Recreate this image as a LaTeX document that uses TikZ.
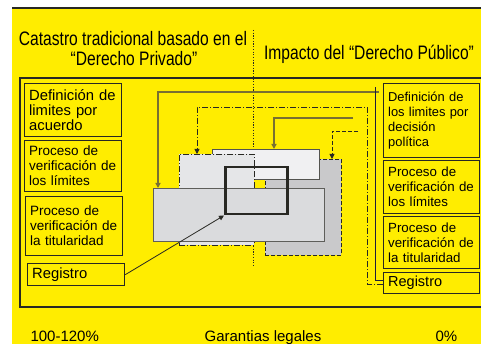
\documentclass[tikz,border=0pt]{standalone}
\usepackage{fontspec}
\setmainfont{Liberation Sans}
\newfontfamily\narrowfont[FakeStretch=0.8]{Liberation Sans}
\usetikzlibrary{arrows.meta}
\definecolor{bgyellow}{RGB}{255,237,0}
\definecolor{ink}{RGB}{40,40,35}
\definecolor{olv}{RGB}{120,112,50}
\definecolor{navy}{RGB}{30,30,60}
\definecolor{grayG}{RGB}{201,201,203}
\definecolor{grayW}{RGB}{240,240,242}
\definecolor{grayD}{RGB}{229,230,232}
\definecolor{grayB}{RGB}{218,219,221}
\begin{document}
\begin{tikzpicture}[x=1pt,y=-1pt,
  tbox/.style={draw=ink, line width=1.3pt, anchor=north west, inner xsep=4.5pt, inner ysep=0pt, align=left, text width=88pt},
  rbox/.style={tbox, text width=87pt},
  shp/.style={anchor=north west, inner sep=0pt, line width=0.9pt},
  tip/.style={-{Triangle[width=5pt,length=5pt]}},
  conn/.style={draw=ink, line width=0.8pt},
  oconn/.style={draw=olv, line width=1.4pt},
  dashdot/.style={dash pattern=on 6pt off 2pt on 1pt off 2pt},
  dsh/.style={dash pattern=on 4pt off 2pt},
  lbl/.style={anchor=base, font={\fontsize{15}{15}\selectfont}},
  ttl/.style={anchor=base, font={\narrowfont\fontsize{19.5}{20}\selectfont}}
]
\useasboundingbox (0,0) rectangle (481,344);
\fill[bgyellow] (12,8) rectangle (481,344);
\draw[ink, line width=2pt] (12,8) -- (481,8);

% titles
\node[ttl] (ta) at (133,45.7) {Catastro tradicional basado en el};
\node[ttl] (tb) at (134,65.7) {“Derecho Privado”};
\node[ttl] (tc) at (369,59.3) {Impacto del “Derecho Público”};

% dotted divider
\coordinate (dv1) at (253,30);
\coordinate (dv2) at (253,265);
\draw[ink, line width=0.8pt, dash pattern=on 1.2pt off 1.5pt] (dv1) -- (dv2);

% frame
\draw[ink, line width=2.5pt] (482,78) -- (20,78) -- (20,307) -- (482,307);

% left boxes
\node[tbox, minimum height=53pt, font={\fontsize{14.8}{15}\selectfont}] (L1) at (24,83) {Definición de\\limites por\\acuerdo};
\node[tbox, minimum height=51pt, font={\fontsize{13.5}{15}\selectfont}] (L2) at (24,140) {Proceso de\\verificación de\\los límites};
\node[tbox, minimum height=59pt, font={\fontsize{13.5}{15}\selectfont}] (L3) at (25,196) {Proceso de\\verificación de\\la titularidad};
\node[tbox, minimum height=22pt, font={\fontsize{14.8}{15}\selectfont}] (L4) at (27,263) {Registro};

% right boxes
\node[rbox, minimum height=74pt, font={\fontsize{12.9}{15}\selectfont}] (R1) at (383,83) {Definición de\\los limites por\\decisión\\política};
\node[rbox, minimum height=53pt, font={\fontsize{13.3}{15}\selectfont}] (R2) at (383,160) {Proceso de\\verificación de\\los límites};
\node[rbox, minimum height=52pt, font={\fontsize{13.3}{15}\selectfont}] (R3) at (383,216) {Proceso de\\verificación de\\la titularidad};
\node[rbox, minimum height=21pt, font={\fontsize{14.5}{15}\selectfont}] (R4) at (383,272) {Registro};

% central shapes
\node[shp, draw=ink, dsh, fill=grayG, minimum width=76pt, minimum height=96pt] (G) at (265,159) {};
\node[shp, draw=ink!80, fill=grayW, minimum width=107pt, minimum height=30pt] (W) at (212,149) {};
\node[shp, draw=ink, dashdot, fill=grayD, minimum width=75pt, minimum height=91pt] (D) at (179,154) {};
\node[shp, draw=ink!75, fill=grayB, minimum width=171pt, minimum height=53pt] (B) at (153,188) {};
\node[shp, draw=ink, line width=2.5pt, minimum width=62pt, minimum height=47pt] (T) at (224,166) {};

% connectors
\coordinate (a1) at (379,92);
\coordinate (a2) at (158,92);
\draw[oconn, tip] (a1) -- (a2) -- (a2 |- B.north);

\coordinate (b1) at (375,87);
\draw[draw=navy, line width=0.8pt] (R4.west |- 0,280) -- (375,280) -- (b1);

\coordinate (c1) at (367,107);
\coordinate (c2) at (197,107);
\draw[conn, dashdot, tip] (R4.west |- 0,284) -- (367,284) -- (c1) -- (c2) -- (c2 |- D.north);

\coordinate (d1) at (353,118);
\coordinate (d2) at (274,118);
\draw[oconn, tip] (d1) -- (d2) -- (d2 |- W.north);

\coordinate (e1) at (358,131);
\coordinate (e2) at (332,131);
\draw[conn, dsh, tip] (e1) -- (e2) -- (e2 |- G.north);

\draw[conn, tip] (L4.east) -- (T.south west);

% bottom labels
\node[lbl, anchor=base west] (p1) at (27,341.5) {100-120\%};
\node[lbl] (p2) at (263,341.5) {Garantias legales};
\node[lbl, anchor=base west] (p3) at (432,341.5) {0\%};
\end{tikzpicture}
\end{document}
